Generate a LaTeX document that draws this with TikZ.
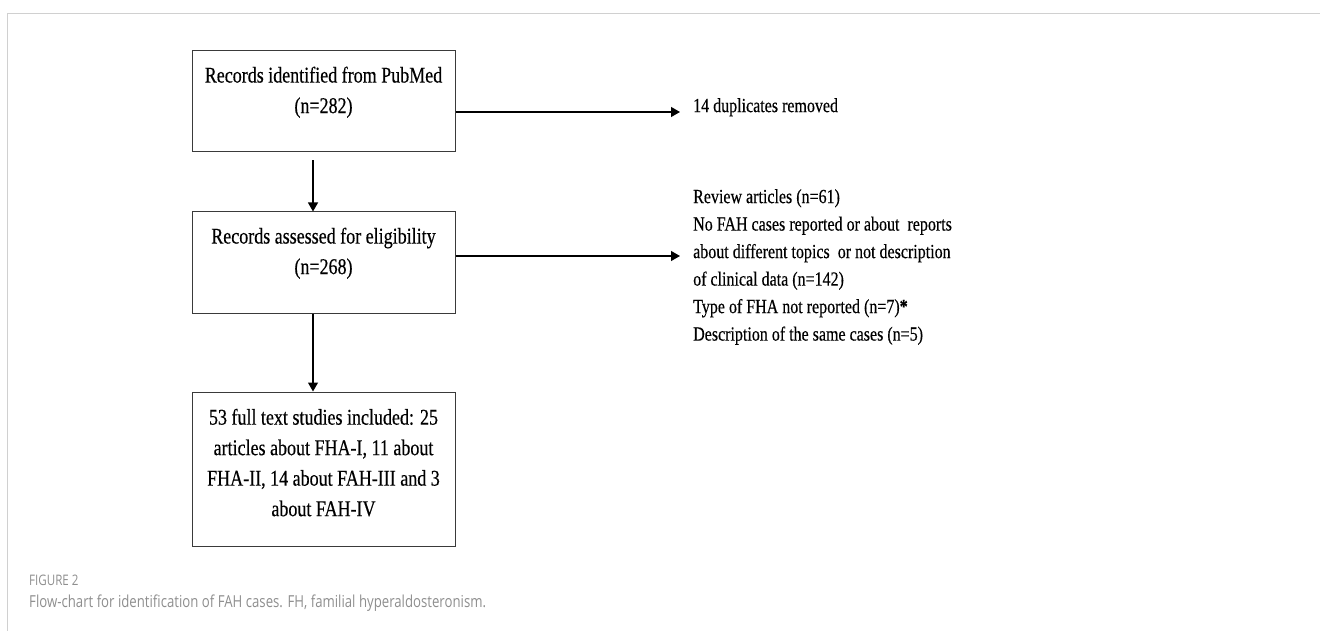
\documentclass[tikz,border=0pt]{standalone}
\usepackage{fontspec}
\setmainfont{Liberation Serif}[FakeStretch=0.8,FakeBold=0.35]
\newfontfamily\capfont{Open Sans}[FakeStretch=0.8]
\usetikzlibrary{arrows.meta}
\definecolor{framegray}{HTML}{D0D0D0}
\definecolor{capgray}{HTML}{8E8E8E}
\definecolor{boxline}{HTML}{3A3A3A}
\begin{document}
\begin{tikzpicture}[x=1pt,y=-1pt,
  box/.style={draw=boxline,line width=1pt,minimum width=263pt,minimum height=101pt,inner sep=0pt},
  boxtext/.style={align=center,inner sep=0pt,anchor=north,font=\fontsize{22.5}{30.5}\selectfont},
  sidetext/.style={align=left,inner sep=0pt,anchor=north west,font=\fontsize{20}{27.5}\selectfont},
  arr/.style={line width=1.1pt,-{Triangle[length=9pt,width=10pt]}},
  captext/.style={inner sep=0pt,anchor=base west,text=capgray}]
\useasboundingbox (0,0) rectangle (1320,631);
% frame
\draw[framegray,line width=1pt] (7,631) -- (7,13.5) -- (1320,13.5);
% boxes
\node[box] (b1) at (323.5,101.5) {};
\node[box] (b2) at (323.5,262.5) {};
\node[box,minimum height=154pt] (b3) at (323.5,469) {};
\node[boxtext] (t1) at (323.5,66.5) {Records identified from PubMed\\(n=282)};
\node[boxtext] (t2) at (323.5,227.5) {Records assessed for eligibility\\(n=268)};
\node[boxtext] (t3) at (323.5,408.6) {53 full text studies included: 25\\articles about FHA-I, 11 about\\FHA-II, 14 about FAH-III and 3\\about FAH-IV};
% side texts
\node[sidetext] (dup) at (693,98) {14 duplicates removed};
\node[sidetext] (exc) at (693,189) {Review articles (n=61)\\No FAH cases reported or about\ \ reports\\about different topics\ \ or not description\\of clinical data (n=142)\\Type of FHA not reported (n=7)\textbf{*}\\Description of the same cases (n=5)};
\coordinate (e1) at (680,112);
\coordinate (e2) at (680,256);
% connectors
\draw[arr] ([xshift=-10.5pt,yshift=-8pt]b1.south) -- ([xshift=-10.5pt]b2.north);
\draw[arr] ([xshift=-10.5pt]b2.south) -- ([xshift=-10.5pt]b3.north);
\draw[arr] (b1.east |- e1) -- (e1);
\draw[arr] (b2.east |- e2) -- (e2);
% caption
\node[captext,font=\capfont\fontsize{14.5}{16}\selectfont] (fig) at (29,585) {FIGURE 2};
\node[captext,font=\capfont\fontsize{16.5}{18}\selectfont] (cap) at (29,607) {Flow-chart for identification of FAH cases. FH, familial hyperaldosteronism.};
\end{tikzpicture}
\end{document}
